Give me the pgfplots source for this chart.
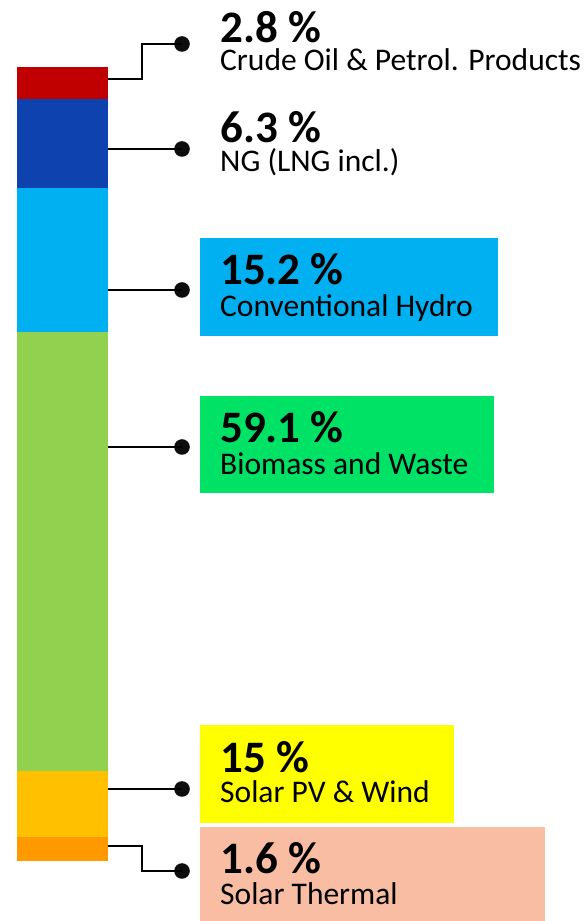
\documentclass[border=0pt]{standalone}
\usepackage{fontspec}
\setmainfont{Carlito}
\usepackage{pgfplots}
\pgfplotsset{compat=1.18}
\definecolor{cRed}{HTML}{C00000}
\definecolor{cBlue}{HTML}{0E42AE}
\definecolor{cLBlue}{HTML}{00B0F0}
\definecolor{cGreen}{HTML}{92D050}
\definecolor{cAmber}{HTML}{FFC000}
\definecolor{cOrange}{HTML}{FF9900}
\definecolor{bGreen}{HTML}{00E266}
\definecolor{bYellow}{HTML}{FFFF00}
\definecolor{bSalmon}{HTML}{F8BDA2}
% two-line label: bold percentage, then the name; #1 = gap between baselines
\newcommand{\twoline}[3]{\vtop{\baselineskip=#1pt\lineskip=0pt\lineskiplimit=-200pt
  \hbox{\fontsize{45}{45}\selectfont\bfseries #2}%
  \hbox{\fontsize{31.5}{31.5}\selectfont #3}}}
\tikzset{conn/.style={line width=2.2pt, black}, dot/.style={fill=black!95}, txt/.style={anchor=base west, inner sep=0pt}}
\begin{document}
\begin{tikzpicture}
\useasboundingbox (0,0) rectangle (586pt,921pt);
\begin{axis}[
  at={(0,0)}, anchor=south west,
  scale only axis, width=586pt, height=921pt,
  xmin=0, xmax=586, ymin=-60, ymax=861,
  hide axis, clip=false,
  ybar stacked, bar width=91,
]
% drawn heights of the segments (bottom to top)
\addplot[fill=cOrange, draw=none] coordinates {(62.5,24)};
\addplot[fill=cAmber, draw=none] coordinates {(62.5,66)};
\addplot[fill=cGreen, draw=none] coordinates {(62.5,439)};
\addplot[fill=cLBlue, draw=none] coordinates {(62.5,144)};
\addplot[fill=cBlue, draw=none] coordinates {(62.5,89)};
\addplot[fill=cRed, draw=none] coordinates {(62.5,32)};
% label boxes
\fill[cLBlue] (200,623) rectangle (498,525);
\fill[bGreen] (200,465) rectangle (494,368);
\fill[bYellow] (200,136) rectangle (454,38);
\fill[bSalmon] (200,34) rectangle (545,-60);
% connectors
\draw[conn] (88,782) -- (142,782) -- (142,817) -- (182,817);
\draw[conn] (80,712) -- (182,712);
\draw[conn] (80,571) -- (182,571);
\draw[conn] (80,414) -- (182,414);
\draw[conn] (80,72) -- (182,72);
\draw[conn] (88,15) -- (142,15) -- (142,-10) -- (182,-10);
\fill[dot] (182,817) circle[radius=7.8pt];
\fill[dot] (182,712) circle[radius=7.8pt];
\fill[dot] (182,571) circle[radius=7.8pt];
\fill[dot] (182,414) circle[radius=7.8pt];
\fill[dot] (182,72) circle[radius=7.8pt];
\fill[dot] (182,-10) circle[radius=7.8pt];
% text anchor points
\coordinate (p1) at (220,818);
\coordinate (p2) at (220,718);
\coordinate (p3) at (220,576);
\coordinate (p4) at (220,418);
\coordinate (p5) at (220,88);
\coordinate (p6) at (220,-13);
\end{axis}
\node[txt] at (p1) {\twoline{28}{2.8 \%}{Crude Oil \& Petrol. Products}};
\node[txt] at (p2) {\twoline{29}{6.3 \%}{NG (LNG incl.)}};
\node[txt] at (p3) {\twoline{32}{15.2 \%}{Conventional Hydro}};
\node[txt] at (p4) {\twoline{32}{59.1 \%}{Biomass and Waste}};
\node[txt] at (p5) {\twoline{30}{15 \%}{Solar PV \& Wind}};
\node[txt] at (p6) {\twoline{31}{1.6 \%}{Solar Thermal}};
\end{tikzpicture}
\end{document}
